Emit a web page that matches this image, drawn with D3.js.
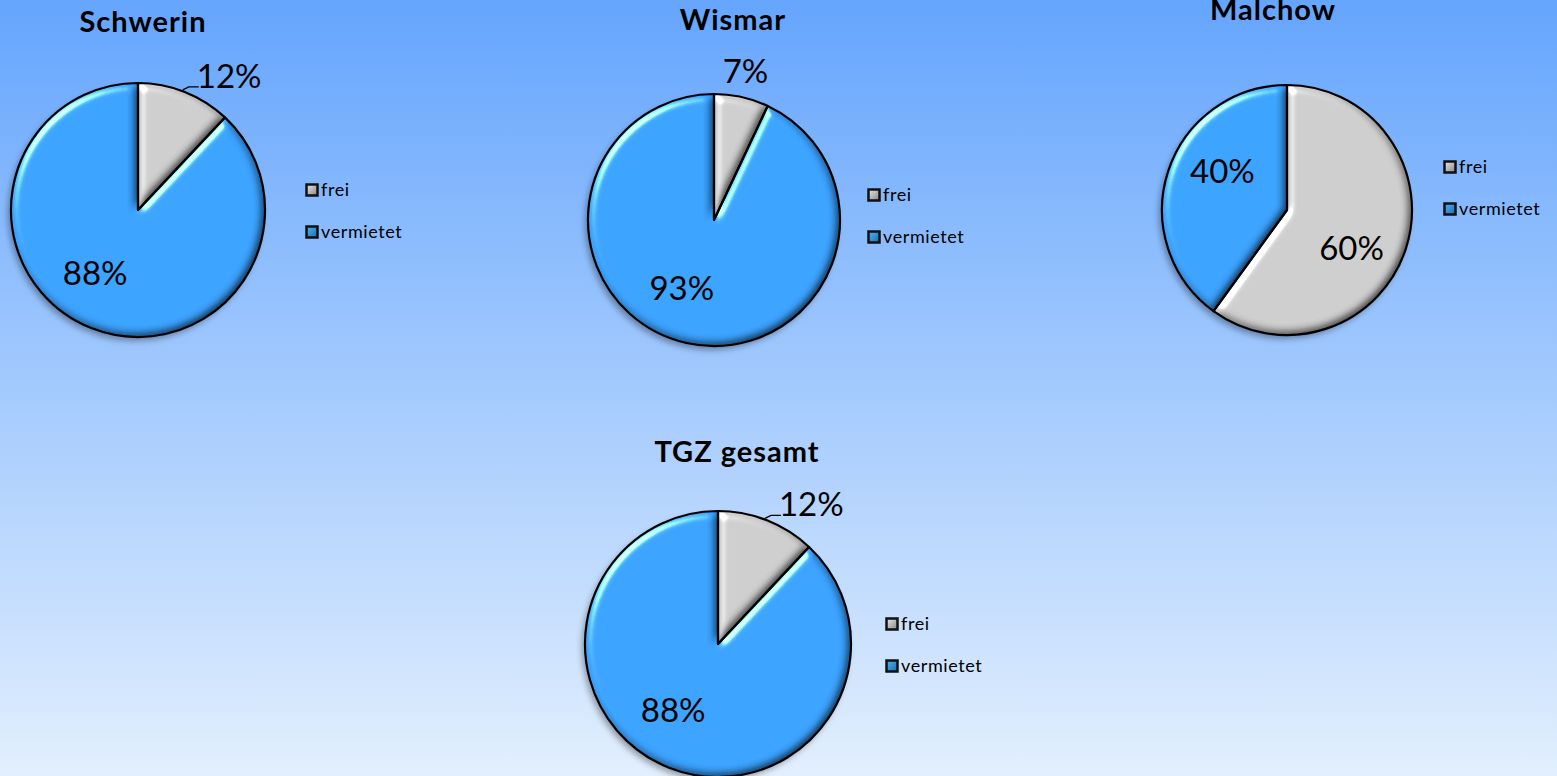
<!DOCTYPE html>
<html>
<head>
<meta charset="utf-8">
<script src="https://cdn.jsdelivr.net/npm/d3@7"></script>
<style>
  html, body { margin: 0; padding: 0; overflow: hidden; }
  svg { display: block; font-family: Lato, "Open Sans", sans-serif; }
</style>
</head>
<body>
<svg id="chart" width="1557" height="776"></svg>
<script>
// data
var locations = ["Schwerin", "Wismar", "Malchow", "TGZ gesamt"];
var categories = ["frei", "vermietet"];
var freiValues = [12, 7, 60, 12];
var vermietetValues = [88, 93, 40, 88];

// layout of the four panels
var layout = [
  {cx: 138,  cy: 210, r: 127, tx: 143,  ty: 32,  lx: 305, ly: 183},
  {cx: 714,  cy: 220, r: 126, tx: 733,  ty: 30,  lx: 867, ly: 188},
  {cx: 1287, cy: 210, r: 125, tx: 1273, ty: 20,  lx: 1443, ly: 160},
  {cx: 718,  cy: 644, r: 133, tx: 737,  ty: 462, lx: 885, ly: 617}
];

var color = d3.scaleOrdinal()
    .domain(categories)
    .range(["#cbcbcb", "#3aa0fd"]);

var svg = d3.select("#chart"),
    width = +svg.attr("width"),
    height = +svg.attr("height");

var defs = svg.append("defs");

var bg = defs.append("linearGradient")
    .attr("id", "bg")
    .attr("x1", 0).attr("y1", 0).attr("x2", 0).attr("y2", 1);
bg.append("stop").attr("offset", "0%").attr("stop-color", "#65a5fd");
bg.append("stop").attr("offset", "100%").attr("stop-color", "#e2effe");

// small gradient for the legend keys
categories.forEach(function(c, k) {
  var lg = defs.append("linearGradient")
      .attr("id", "key" + k)
      .attr("x1", 0).attr("y1", 0).attr("x2", 1).attr("y2", 1);
  lg.append("stop").attr("offset", "0%").attr("stop-color", d3.color(color(c)).brighter(0.4));
  lg.append("stop").attr("offset", "100%").attr("stop-color", d3.color(color(c)).darker(1.2));
});

// bevel look of the slices
var bevel = defs.append("filter").attr("id", "bevel")
    .attr("color-interpolation-filters", "sRGB")
    .attr("x", "-10%").attr("y", "-10%").attr("width", "120%").attr("height", "120%");
bevel.append("feGaussianBlur").attr("in", "SourceAlpha").attr("stdDeviation", 4).attr("result", "blur");
var spec = bevel.append("feSpecularLighting")
    .attr("in", "blur").attr("surfaceScale", 4)
    .attr("specularConstant", 1.2).attr("specularExponent", 40)
    .attr("lighting-color", "#ffffff").attr("result", "spec");
spec.append("feDistantLight").attr("azimuth", 225).attr("elevation", 40);
bevel.append("feComposite").attr("in", "spec").attr("in2", "SourceAlpha")
    .attr("operator", "in").attr("result", "specOut");
var diff = bevel.append("feDiffuseLighting")
    .attr("in", "blur").attr("surfaceScale", 4).attr("diffuseConstant", 1.155)
    .attr("lighting-color", "#ffffff").attr("result", "diff");
diff.append("feDistantLight").attr("azimuth", 225).attr("elevation", 60);
bevel.append("feComposite").attr("in", "SourceGraphic").attr("in2", "diff")
    .attr("operator", "arithmetic").attr("k1", 1).attr("k2", 0).attr("k3", 0).attr("k4", 0)
    .attr("result", "shaded");
bevel.append("feComposite").attr("in", "shaded").attr("in2", "specOut")
    .attr("operator", "arithmetic").attr("k1", 0).attr("k2", 1).attr("k3", 0.6).attr("k4", 0)
    .attr("result", "lit");
bevel.append("feComposite").attr("in", "lit").attr("in2", "SourceAlpha").attr("operator", "in");

var shadow = defs.append("filter").attr("id", "shadow")
    .attr("x", "-20%").attr("y", "-20%").attr("width", "140%").attr("height", "140%");
shadow.append("feDropShadow").attr("dx", -3).attr("dy", 4).attr("stdDeviation", 3)
    .attr("flood-color", "#000").attr("flood-opacity", 0.35);

svg.append("rect")
    .attr("width", width)
    .attr("height", height)
    .attr("fill", "url(#bg)");

var pie = d3.pie()
    .sort(null)
    .value(function(d) { return d.value; });

locations.forEach(function(name, i) {
  var L = layout[i];
  var total = freiValues[i] + vermietetValues[i];
  var data = [
    {key: "frei", value: freiValues[i]},
    {key: "vermietet", value: vermietetValues[i]}
  ];
  var arcs = pie(data);
  var arc = d3.arc().innerRadius(0).outerRadius(L.r);

  var g = svg.append("g")
      .attr("transform", "translate(" + L.cx + "," + L.cy + ")");

  g.append("g")
      .attr("filter", "url(#shadow)")
    .selectAll("path")
    .data(arcs)
    .enter().append("path")
      .attr("d", arc)
      .attr("fill", function(d) { return color(d.data.key); })
      .attr("filter", "url(#bevel)");

  g.selectAll(".edge")
    .data(arcs)
    .enter().append("path")
      .attr("class", "edge")
      .attr("d", arc)
      .attr("fill", "none")
      .attr("stroke", "#000")
      .attr("stroke-width", 2.2)
      .attr("stroke-linejoin", "round");

  // percentage labels
  arcs.forEach(function(d) {
    var share = d.data.value / total;
    var mid = (d.startAngle + d.endAngle) / 2;
    var txt = Math.round(share * 100) + "%";
    if (share < 0.1) {
      var ex = Math.sin(mid) * L.r, ey = -Math.cos(mid) * L.r;
      g.append("text")
          .attr("x", ex + 4).attr("y", ey - 14)
          .attr("text-anchor", "middle")
          .attr("font-size", 33)
          .text(txt);
    } else if (share < 0.2) {
      var sx = Math.sin(mid) * L.r, sy = -Math.cos(mid) * L.r;
      g.append("path")
          .attr("d", "M" + (sx - 2) + "," + (sy - 2) + "L" + (sx + 4) + "," + (sy - 5) + "L" + (sx + 14) + "," + (sy - 5))
          .attr("fill", "none")
          .attr("stroke", "#000")
          .attr("stroke-width", 1.3);
      g.append("text")
          .attr("x", sx + 12).attr("y", sy - 4)
          .attr("font-size", 33)
          .text(txt);
    } else {
      var a = mid + 0.22, rr = L.r * 0.6;
      g.append("text")
          .attr("x", Math.sin(a) * rr).attr("y", -Math.cos(a) * rr)
          .attr("dy", "0.35em")
          .attr("text-anchor", "middle")
          .attr("font-size", 33)
          .text(txt);
    }
  });

  svg.append("text")
      .attr("x", L.tx).attr("y", L.ty)
      .attr("text-anchor", "middle")
      .attr("font-size", 29)
      .attr("font-weight", "bold")
      .attr("letter-spacing", 1)
      .text(name);

  var leg = svg.append("g")
      .attr("transform", "translate(" + L.lx + "," + L.ly + ")");
  var item = leg.selectAll("g")
    .data(categories)
    .enter().append("g")
      .attr("transform", function(d, j) { return "translate(0," + (j * 42) + ")"; });
  item.append("rect")
      .attr("x", 1.5).attr("y", 1.5)
      .attr("width", 11).attr("height", 11)
      .attr("fill", function(d, k) { return "url(#key" + k + ")"; })
      .attr("stroke", "#111")
      .attr("stroke-width", 2.5);
  item.append("text")
      .attr("x", 16).attr("y", 13)
      .attr("font-size", 18)
      .attr("letter-spacing", 0.6)
      .text(function(d) { return d; });
});
</script>
</body>
</html>
